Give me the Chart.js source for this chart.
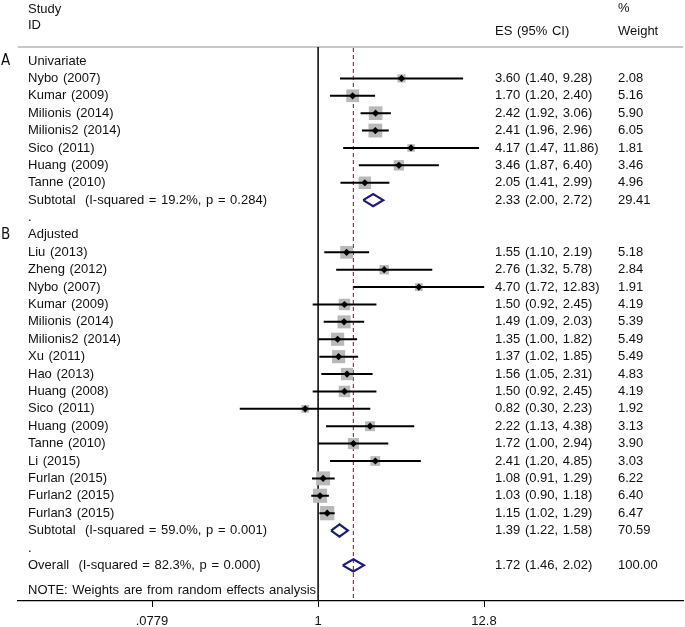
<!DOCTYPE html>
<html>
<head>
<meta charset="utf-8">
<title>Forest plot</title>
<script src="https://cdn.jsdelivr.net/npm/chart.js@4.4.1/dist/chart.umd.min.js"></script>
<style>
  body { margin: 0; background: #fff; }
  #wrap { width: 685px; height: 627px; }
</style>
</head>
<body>
<div id="wrap"><canvas id="forest"></canvas></div>
<script>
// Rows of the plot, top to bottom
const rowLabels = [
    'Univariate', 'Nybo (2007)', 'Kumar (2009)', 'Milionis (2014)', 'Milionis2 (2014)',
    'Sico (2011)', 'Huang (2009)', 'Tanne (2010)', 'Subtotal  (I-squared = 19.2%, p = 0.284)', '.',
    'Adjusted', 'Liu (2013)', 'Zheng (2012)', 'Nybo (2007)', 'Kumar (2009)', 'Milionis (2014)',
    'Milionis2 (2014)', 'Xu (2011)', 'Hao (2013)', 'Huang (2008)', 'Sico (2011)', 'Huang (2009)',
    'Tanne (2010)', 'Li (2015)', 'Furlan (2015)', 'Furlan2 (2015)', 'Furlan3 (2015)',
    'Subtotal  (I-squared = 59.0%, p = 0.001)', '.', 'Overall  (I-squared = 82.3%, p = 0.000)'
];
// 'head' = group title, 'study', 'pool' = pooled estimate, 'gap'
const rowKind = [
    'head', 'study', 'study', 'study', 'study', 'study', 'study', 'study', 'pool', 'gap',
    'head', 'study', 'study', 'study', 'study', 'study', 'study', 'study', 'study', 'study',
    'study', 'study', 'study', 'study', 'study', 'study', 'study', 'pool', 'gap', 'pool'
];
const effect = [
    null, 3.60, 1.70, 2.42, 2.41, 4.17, 3.46, 2.05, 2.33, null,
    null, 1.55, 2.76, 4.70, 1.50, 1.49, 1.35, 1.37, 1.56, 1.50,
    0.82, 2.22, 1.72, 2.41, 1.08, 1.03, 1.15, 1.39, null, 1.72
];
const ciLow = [
    null, 1.40, 1.20, 1.92, 1.96, 1.47, 1.87, 1.41, 2.00, null,
    null, 1.10, 1.32, 1.72, 0.92, 1.09, 1.00, 1.02, 1.05, 0.92,
    0.30, 1.13, 1.00, 1.20, 0.91, 0.90, 1.02, 1.22, null, 1.46
];
const ciHigh = [
    null, 9.28, 2.40, 3.06, 2.96, 11.86, 6.40, 2.99, 2.72, null,
    null, 2.19, 5.78, 12.83, 2.45, 2.03, 1.82, 1.85, 2.31, 2.45,
    2.23, 4.38, 2.94, 4.85, 1.29, 1.18, 1.29, 1.58, null, 2.02
];
const weight = [
    null, 2.08, 5.16, 5.90, 6.05, 1.81, 3.46, 4.96, 29.41, null,
    null, 5.18, 2.84, 1.91, 4.19, 5.39, 5.49, 5.49, 4.83, 4.19,
    1.92, 3.13, 3.90, 3.03, 6.22, 6.40, 6.47, 70.59, null, 100.00
];
const groupLetters = ['A', 'B'];
const groupRows = [0, 10];
const tickValues = [0.0779, 1, 12.8];
const tickLabels = ['.0779', '1', '12.8'];
const overallEffect = 1.72;

// axis range (log scale) and row range
const xMin = 0.009936, xMax = 272.4;
const yTop = -3.508, yBottom = 31.05;
const headerLineRow = -0.805;

// Build datasets from the arrays
const squares = [], centers = [], ciSegs = [], diamonds = [];
const squareWeights = [];
rowKind.forEach((kind, i) => {
    if (kind === 'study') {
        squares.push({ x: effect[i], y: i });
        squareWeights.push(weight[i]);
        centers.push({ x: effect[i], y: i });
        ciSegs.push({ x: ciLow[i], y: i }, { x: ciHigh[i], y: i }, { x: ciHigh[i], y: null });
    } else if (kind === 'pool') {
        const h = 0.35;
        diamonds.push(
            { x: ciLow[i], y: i }, { x: effect[i], y: i - h }, { x: ciHigh[i], y: i },
            { x: effect[i], y: i + h }, { x: ciLow[i], y: i }, { x: ciLow[i], y: null }
        );
    }
});

// Text columns drawn over the chart
const textPlugin = {
    id: 'forestText',
    afterDraw(chart) {
        const ctx = chart.ctx;
        const yScale = chart.scales.y;
        ctx.save();
        ctx.fillStyle = '#111';
        ctx.textBaseline = 'middle';
        ctx.textAlign = 'left';
        ctx.font = '13px "Liberation Sans", Arial, sans-serif';
        ctx.wordSpacing = '1px';

        // header
        ctx.fillText('Study', 28, 9);
        ctx.fillText('ID', 28, 25);
        ctx.fillText('ES (95% CI)', 495, 31);
        ctx.fillText('%', 618, 8);
        ctx.fillText('Weight', 618, 31);

        rowLabels.forEach((label, i) => {
            const py = yScale.getPixelForValue(i);
            ctx.fillText(label, 28, py);
            if (effect[i] !== null) {
                const es = effect[i].toFixed(2) + ' (' + ciLow[i].toFixed(2) + ', ' + ciHigh[i].toFixed(2) + ')';
                ctx.fillText(es, 495, py);
                ctx.fillText(weight[i].toFixed(2), 618, py);
            }
        });
        ctx.fillText('NOTE: Weights are from random effects analysis', 28, yScale.getPixelForValue(30.45));

        // group letters
        ctx.font = '15px "DejaVu Sans Condensed", "Liberation Sans Narrow", sans-serif';
        groupLetters.forEach((g, k) => {
            ctx.fillText(g, 1, yScale.getPixelForValue(groupRows[k]));
        });
        ctx.restore();
    }
};

const chart = new Chart(document.getElementById('forest'), {
    type: 'scatter',
    data: {
        datasets: [
            {
                // black point estimate markers
                data: centers,
                pointStyle: 'rectRot',
                pointRadius: 3.6,
                backgroundColor: '#000',
                borderWidth: 0
            },
            {
                // confidence intervals
                data: ciSegs,
                showLine: true,
                spanGaps: false,
                borderColor: '#000',
                borderWidth: 2,
                pointRadius: 0
            },
            {
                // weight boxes
                data: squares,
                pointStyle: 'rect',
                pointRadius: c => 5.6 * Math.sqrt(squareWeights[c.dataIndex]) / 1.414,
                backgroundColor: '#b9b9b9',
                borderWidth: 0
            },
            {
                // pooled estimates
                data: diamonds,
                showLine: true,
                spanGaps: false,
                borderColor: '#1c1c78',
                borderWidth: 2.2,
                borderJoinStyle: 'miter',
                pointRadius: 0
            },
            {
                // overall effect line
                data: [{ x: overallEffect, y: headerLineRow + 0.05 }, { x: overallEffect, y: yBottom }],
                showLine: true,
                borderColor: '#a83038',
                borderWidth: 1.2,
                borderDash: [4, 3],
                pointRadius: 0
            },
            {
                // null line
                data: [{ x: 1, y: headerLineRow }, { x: 1, y: yBottom }],
                showLine: true,
                borderColor: '#000',
                borderWidth: 1.5,
                pointRadius: 0
            },
            {
                // header rule
                data: [{ x: xMin, y: headerLineRow }, { x: xMax, y: headerLineRow }],
                showLine: true,
                borderColor: '#c8c8c8',
                borderWidth: 2,
                pointRadius: 0
            }
        ]
    },
    options: {
        responsive: true,
        maintainAspectRatio: false,
        animation: false,
        layout: { autoPadding: false, padding: { left: 18, right: 2, top: 0, bottom: 0 } },
        plugins: {
            legend: { display: false },
            tooltip: { enabled: false }
        },
        scales: {
            x: {
                type: 'logarithmic',
                min: xMin,
                max: xMax,
                afterBuildTicks: scale => {
                    scale.ticks = tickValues.map(v => ({ value: v }));
                },
                afterFit: scale => { scale.height = 26; },
                ticks: {
                    autoSkip: false,
                    maxRotation: 0,
                    padding: 7,
                    color: '#111',
                    font: { family: '"Liberation Sans", Arial, sans-serif', size: 13 },
                    callback: (value, index) => tickLabels[index]
                },
                grid: {
                    display: true,
                    drawOnChartArea: false,
                    drawTicks: true,
                    tickLength: 6,
                    color: '#000'
                },
                border: { display: true, color: '#000', width: 1.2 }
            },
            y: {
                type: 'linear',
                display: false,
                reverse: true,
                min: yTop,
                max: yBottom
            }
        }
    },
    plugins: [textPlugin]
});
</script>
</body>
</html>
